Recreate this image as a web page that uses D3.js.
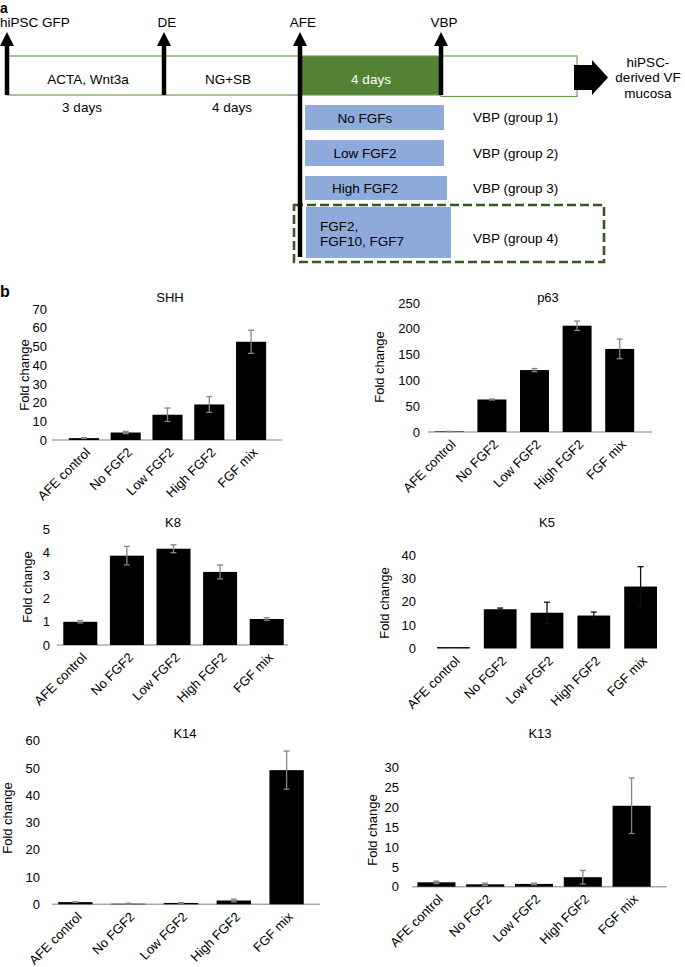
<!DOCTYPE html>
<html><head><meta charset="utf-8">
<script src="https://cdn.jsdelivr.net/npm/d3@7"></script>
<style>
body{margin:0;background:#fff}
svg{display:block}
text{font-family:"Liberation Sans",Arial,Helvetica,sans-serif;fill:#000}
</style>
</head><body>
<svg id="fig" width="685" height="967"></svg>
<script>
// ---------- DATA ----------
const categories = ["AFE control", "No FGF2", "Low FGF2", "High FGF2", "FGF mix"];

const shhValues = [1.0, 4.0, 13.5, 19.0, 52.5];
const shhErrors = [0.2, 0.6, 3.6, 4.2, 6.2];
const shhTicks  = [0, 10, 20, 30, 40, 50, 60, 70];

const p63Values = [1, 63, 120, 206, 161];
const p63Errors = [0.3, 1, 3, 9, 19];
const p63Ticks  = [0, 50, 100, 150, 200, 250];

const k8Values = [1.0, 3.85, 4.15, 3.15, 1.12];
const k8Errors = [0.05, 0.4, 0.17, 0.3, 0.06];
const k8Ticks  = [0, 1, 2, 3, 4, 5];

const k5Values = [0.6, 16.8, 15.3, 14.1, 26.5];
const k5Errors = [0, 0.5, 4.5, 1.5, 8.5];
const k5Ticks  = [0, 10, 20, 30, 40];

const k14Values = [0.8, 0.2, 0.5, 1.4, 49.2];
const k14Errors = [0.1, 0.2, 0.1, 0.5, 7.0];
const k14Ticks  = [0, 10, 20, 30, 40, 50, 60];

const k13Values = [1.1, 0.6, 0.7, 2.4, 20.4];
const k13Errors = [0.3, 0.3, 0.2, 1.7, 7.0];
const k13Ticks  = [0, 5, 10, 15, 20, 25, 30];

const yAxisLabel = "Fold change";

// Panel a (schematic) texts
const stageLabels = ["hiPSC GFP", "DE", "AFE", "VBP"];
const stageBoxTexts = ["ACTA, Wnt3a", "NG+SB", "4 days", ""];
const durationLabels = ["3 days", "4 days"];
const treatmentLabels = [["No FGFs"], ["Low FGF2"], ["High FGF2"], ["FGF2,", "FGF10, FGF7"]];
const groupLabels = ["VBP (group 1)", "VBP (group 2)", "VBP (group 3)", "VBP (group 4)"];
const outcomeLabel = ["hiPSC-", "derived VF", "mucosa"];

// ---------- DRAW ----------
const svg = d3.select("#fig");
const FONT = '"Liberation Sans",Arial,Helvetica,sans-serif';

// Panel letters
svg.append("text").attr("x", 0).attr("y", 13).attr("font-size", 14).attr("font-weight", "bold").text("a");
svg.append("text").attr("x", 0).attr("y", 297).attr("font-size", 16).attr("font-weight", "bold").text("b");

// ----- Panel a -----
const A = {
  arrowX: [7, 164, 300, 441],
  arrowBottom: [95, 95, 257, 95],
  boxTop: 56, boxBot: 95, boxRight: 577,
  segFill: ["#fff", "#fff", "#548235", "#fff"],
  treatBoxes: [[305,105,444,130],[305,140,444,166],[305,176,447,200],[306,207,451,258]]
};
const ga = svg.append("g");
const segEdges = A.arrowX.concat([A.boxRight]);
for (let i = 0; i < 4; i++) {
  const x0 = segEdges[i], x1 = segEdges[i+1];
  const bot = i === 3 ? 96.5 : A.boxBot;
  ga.append("rect").attr("x", x0).attr("y", A.boxTop).attr("width", x1 - x0).attr("height", bot - A.boxTop)
    .attr("fill", A.segFill[i]).attr("stroke", "#6f9e4f").attr("stroke-width", 1.2);
}
// box texts
const segCenters = [88, 228, 371];
stageBoxTexts.forEach((t, i) => {
  if (!t) return;
  ga.append("text").attr("x", segCenters[i]).attr("y", 84).attr("text-anchor", "middle")
    .attr("font-size", 13.5).style("fill", i === 2 ? "#fff" : "#000").text(t);
});
// durations
[82, 232].forEach((x, i) => {
  ga.append("text").attr("x", x).attr("y", 112).attr("text-anchor", "middle").attr("font-size", 13.5).text(durationLabels[i]);
});
// treatment boxes
A.treatBoxes.forEach((b, i) => {
  ga.append("rect").attr("x", b[0]).attr("y", b[1]).attr("width", b[2]-b[0]).attr("height", b[3]-b[1]).attr("fill", "#8eaadb");
  const lines = treatmentLabels[i];
  if (lines.length === 1) {
    ga.append("text").attr("x", 365).attr("y", (b[1]+b[3])/2 + 5).attr("text-anchor", "middle").attr("font-size", 13.5).text(lines[0]);
  } else {
    ga.append("text").attr("x", 320).attr("y", 231).attr("font-size", 13.5).text(lines[0]);
    ga.append("text").attr("x", 320).attr("y", 245.5).attr("font-size", 13.5).text(lines[1]);
  }
  ga.append("text").attr("x", 473).attr("y", i === 3 ? 243 : (b[1]+b[3])/2 + 4.5).attr("font-size", 13.5).text(groupLabels[i]);
});
// dashed rect
ga.append("rect").attr("x", 294).attr("y", 205).attr("width", 310).attr("height", 57)
  .attr("fill", "none").attr("stroke", "#385723").attr("stroke-width", 2.6).attr("stroke-dasharray", "9,4");
// stage arrows
A.arrowX.forEach((x, i) => {
  ga.append("line").attr("x1", x).attr("x2", x).attr("y1", 44).attr("y2", A.arrowBottom[i])
    .attr("stroke", "#000").attr("stroke-width", 4.5);
  ga.append("path").attr("d", `M${x-7},46 L${x},32 L${x+7},46 Z`).attr("fill", "#000");
  const tx = i === 0 ? 0 : x + 3;
  ga.append("text").attr("x", tx).attr("y", 26.5).attr("text-anchor", i === 0 ? "start" : "middle")
    .attr("font-size", 13.5).text(stageLabels[i]);
});
// big arrow
ga.append("path").attr("d", "M574,65 L592,65 L592,60 L608,77.5 L592,95 L592,90 L574,90 Z").attr("fill", "#000");
outcomeLabel.forEach((t, i) => {
  ga.append("text").attr("x", 648).attr("y", 66.5 + i*15.5).attr("text-anchor", "middle").attr("font-size", 13.5).text(t);
});

// ----- Panel b charts -----
const charts = [
  {gene:"SHH", values:shhValues, errors:shhErrors, ticks:shhTicks, y0:440, yTop:309, xRange:[63,272], pad:0.28,
   axis:[52,282], tickX:47, ylab:[29,375], title:[170,302], errColor:"#858585"},
  {gene:"p63", values:p63Values, errors:p63Errors, ticks:p63Ticks, y0:432, yTop:303, xRange:[428,641], pad:0.32,
   axis:[428,652], tickX:420, ylab:[384,367], title:[548,302], errColor:"#858585"},
  {gene:"K8", values:k8Values, errors:k8Errors, ticks:k8Ticks, y0:645, yTop:529, xRange:[57,290], pad:0.27,
   axis:[57,288], tickX:50, ylab:[32,587], title:[173,527], errColor:"#858585"},
  {gene:"K5", values:k5Values, errors:k5Errors, ticks:k5Ticks, y0:648.5, yTop:555, xRange:[430,664], pad:0.3,
   axis:null, tickX:416, ylab:[389,603], title:[547,527], errColor:"#111"},
  {gene:"K14", values:k14Values, errors:k14Errors, ticks:k14Ticks, y0:904.3, yTop:740.7, xRange:[49,313], pad:0.35,
   axis:[52,320], tickX:40, ylab:[12,818], title:[185,738], errColor:"#858585"},
  {gene:"K13", values:k13Values, errors:k13Errors, ticks:k13Ticks, y0:886.7, yTop:767.7, xRange:[412,656], pad:0.22,
   axis:[412,667], tickX:399, ylab:[377,830], title:[540,738], errColor:"#858585"}
];

charts.forEach(c => {
  const g = svg.append("g");
  const y = d3.scaleLinear().domain([0, d3.max(c.ticks)]).range([c.y0, c.yTop]);
  const x = d3.scaleBand().domain(categories).range(c.xRange).paddingInner(c.pad).paddingOuter(c.pad/2);

  // title
  g.append("text").attr("x", c.title[0]).attr("y", c.title[1]).attr("text-anchor", "middle").attr("font-size", 13).text(c.gene);
  // y label
  g.append("text").attr("transform", `translate(${c.ylab[0]},${c.ylab[1]}) rotate(-90)`)
    .attr("text-anchor", "middle").attr("font-size", 13).text(yAxisLabel);

  // y tick labels
  const ya = g.append("g").attr("transform", `translate(${c.tickX},0)`)
    .call(d3.axisLeft(y).tickValues(c.ticks).tickSize(0).tickPadding(0).tickFormat(d3.format("d")));
  ya.select(".domain").remove();
  ya.attr("font-family", FONT).attr("font-size", 13);
  ya.selectAll("text").style("fill", "#000");

  // baseline
  if (c.axis) {
    g.append("line").attr("x1", c.axis[0]).attr("x2", c.axis[1]).attr("y1", c.y0).attr("y2", c.y0)
      .attr("stroke", "#a8a8a8").attr("stroke-width", 1.6);
  }

  // bars
  g.selectAll("rect.bar").data(c.values).join("rect").attr("class", "bar")
    .attr("x", (d, i) => x(categories[i])).attr("width", x.bandwidth())
    .attr("y", d => y(d)).attr("height", d => c.y0 - y(d)).attr("fill", "#000");

  // error bars
  c.values.forEach((v, i) => {
    const e = c.errors[i];
    if (!e) return;
    const cx = x(categories[i]) + x.bandwidth()/2;
    const yT = y(v + e), yB = y(Math.max(0, v - e));
    g.append("line").attr("x1", cx).attr("x2", cx).attr("y1", yT).attr("y2", yB).attr("stroke", c.errColor).attr("stroke-width", 1.3);
    [yT, yB].forEach(yy => g.append("line").attr("x1", cx-3).attr("x2", cx+3).attr("y1", yy).attr("y2", yy)
      .attr("stroke", c.errColor).attr("stroke-width", 1.3));
  });

  // category labels
  const xa = g.append("g").attr("transform", `translate(0,${c.y0})`)
    .call(d3.axisBottom(x).tickSize(0).tickPadding(0));
  xa.select(".domain").remove();
  xa.attr("font-family", FONT).attr("font-size", 13);
  xa.selectAll("text").attr("y", 0).attr("dy", "0.35em").attr("text-anchor", "end")
    .attr("transform", "translate(4,10) rotate(-45)").style("fill", "#000");
});
</script>
</body></html>
